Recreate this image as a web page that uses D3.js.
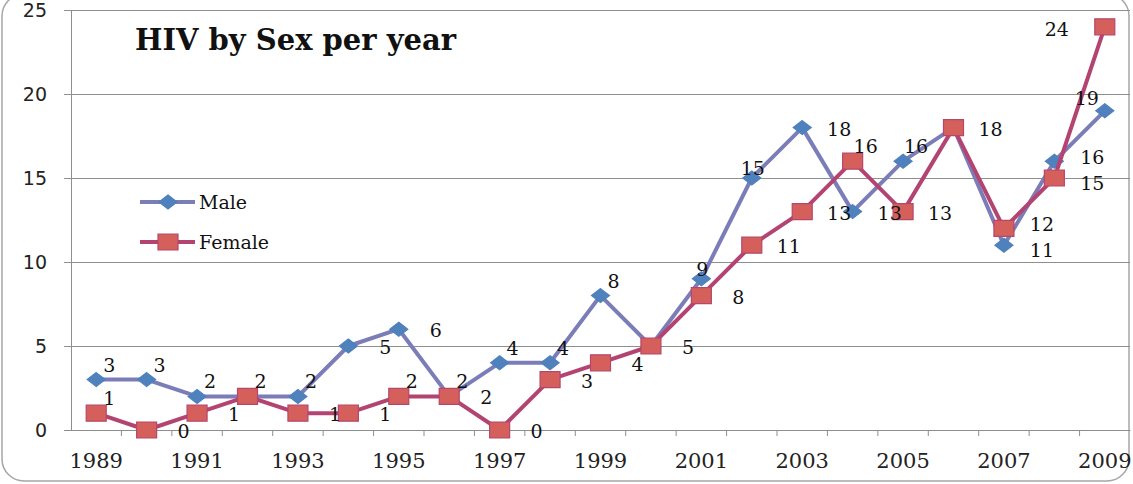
<!DOCTYPE html>
<html>
<head>
<meta charset="utf-8">
<script src="https://cdn.jsdelivr.net/npm/d3@7"></script>
<style>
  body { margin: 0; background: #fff; }
  svg { display: block; }
</style>
</head>
<body>
<div id="chart"></div>
<script>
const years = ['1989','1990','1991','1992','1993','1994','1995','1996','1997','1998','1999',
               '2000','2001','2002','2003','2004','2005','2006','2007','2008','2009'];
const male   = [3, 3, 2, 2, 2, 5, 6, 2, 4, 4, 8, 5, 9, 15, 18, 13, 16, 18, 11, 16, 19];
const female = [1, 0, 1, 2, 1, 1, 2, 2, 0, 3, 4, 5, 8, 11, 13, 16, 13, 18, 12, 15, 24];
const yTicks = [0, 5, 10, 15, 20, 25];

// where each data label sits (null = hidden behind another one)
const maleLabelPos   = ['ur','ur','ur','ur','ur','r','r','ur','ur','ur','ur',null,'u','u','r','r','ur',null,'rd','ru','ul'];
const femaleLabelPos = ['ur','r','r',null,'r','r','ur','r','r','r','r','r','r','r','r','ur','r','r','ru','rd','l'];

const W = 1133, H = 484;
const plotL = 71, plotR = 1130, plotT = 10, plotB = 430;

const svg = d3.select('#chart').append('svg')
    .attr('width', W)
    .attr('height', H);

// outer frame
svg.append('rect')
    .attr('x', 2).attr('y', -6)
    .attr('width', 1127).attr('height', 487)
    .attr('rx', 22).attr('ry', 22)
    .attr('fill', '#fff')
    .attr('stroke', '#a6a6a6')
    .attr('stroke-width', 1.5);

const x = d3.scaleBand().domain(years).range([plotL, plotR]);
const y = d3.scaleLinear().domain([0, 25]).range([plotB, plotT]);
const cx = d => x(d) + x.bandwidth() / 2;

// gridlines
svg.append('g')
    .attr('transform', `translate(${plotL},0)`)
    .call(d3.axisLeft(y).tickValues(yTicks).tickSize(-(plotR - plotL)).tickFormat(''))
    .call(g => g.select('.domain').remove())
    .call(g => g.selectAll('line').attr('stroke', '#8e8e8e').attr('stroke-width', 1));

// y axis
svg.append('g')
    .attr('transform', `translate(${plotL},0)`)
    .call(d3.axisLeft(y).tickValues(yTicks).tickSize(7).tickPadding(17))
    .call(g => g.select('.domain').attr('stroke', '#8e8e8e'))
    .call(g => g.selectAll('line').attr('stroke', '#8e8e8e'))
    .call(g => g.selectAll('text')
        .style('font-family', '"DejaVu Sans", sans-serif')
        .style('font-size', '19px')
        .attr('fill', '#222'));

// x axis: labels every other year, ticks between categories
svg.append('g')
    .attr('transform', `translate(0,${plotB})`)
    .call(d3.axisBottom(x).tickSize(0).tickPadding(23)
        .tickFormat((d, i) => i % 2 === 0 ? d : ''))
    .call(g => g.select('.domain').attr('stroke', '#8e8e8e'))
    .call(g => g.selectAll('text')
        .style('font-family', '"DejaVu Serif", serif')
        .style('font-size', '21px')
        .attr('fill', '#222'));

svg.append('g')
    .selectAll('line')
    .data(years.slice(1))
    .join('line')
    .attr('x1', d => x(d)).attr('x2', d => x(d))
    .attr('y1', plotB).attr('y2', plotB + 6)
    .attr('stroke', '#8e8e8e');

const series = [
    { name: 'Male', values: male, pos: maleLabelPos, line: '#7b7db8', fill: '#4f81bd', stroke: '#4f81bd', shape: 'diamond' },
    { name: 'Female', values: female, pos: femaleLabelPos, line: '#b34472', fill: '#d5605b', stroke: '#b5476c', shape: 'square' }
];

function marker(shape) {
    if (shape === 'diamond') return 'M0,-7L9,0L0,7L-9,0Z';
    return 'M-10,-8H10V8H-10Z';
}

const line = d3.line()
    .x((d, i) => cx(years[i]))
    .y(d => y(d));

series.forEach(s => {
    svg.append('path')
        .datum(s.values)
        .attr('fill', 'none')
        .attr('stroke', s.line)
        .attr('stroke-width', 4)
        .attr('stroke-linejoin', 'round')
        .attr('d', line);

    svg.append('g')
        .selectAll('path')
        .data(s.values)
        .join('path')
        .attr('transform', (d, i) => `translate(${cx(years[i])},${y(d)})`)
        .attr('d', marker(s.shape))
        .attr('fill', s.fill)
        .attr('stroke', s.stroke)
        .attr('stroke-width', 1.2);
});

// data labels
const offsets = {
    r:  [37, 8],
    ru: [38, 3],
    rd: [38, 12],
    ur: [13, -8],
    u:  [1, -3],
    ul: [-18, -6],
    l:  [-48, 9]
};

series.forEach(s => {
    svg.append('g')
        .selectAll('text')
        .data(s.values.map((v, i) => ({ v, i, p: s.pos[i] })).filter(d => d.p))
        .join('text')
        .attr('x', d => cx(years[d.i]) + offsets[d.p][0])
        .attr('y', d => y(d.v) + offsets[d.p][1])
        .attr('text-anchor', 'middle')
        .style('font-family', '"DejaVu Serif", serif')
        .style('font-size', '19px')
        .attr('fill', '#111')
        .text(d => d.v);
});

// legend
const legend = svg.append('g');
series.forEach((s, i) => {
    const ly = 202 + i * 40;
    legend.append('line')
        .attr('x1', 140).attr('x2', 195)
        .attr('y1', ly).attr('y2', ly)
        .attr('stroke', s.line)
        .attr('stroke-width', 4);
    legend.append('path')
        .attr('transform', `translate(168,${ly})`)
        .attr('d', marker(s.shape))
        .attr('fill', s.fill)
        .attr('stroke', s.stroke)
        .attr('stroke-width', 1.2);
    legend.append('text')
        .attr('x', 199).attr('y', ly + 7)
        .style('font-family', '"DejaVu Serif", serif')
        .style('font-size', '19px')
        .attr('fill', '#111')
        .text(s.name);
});

// title
svg.append('text')
    .attr('x', 135).attr('y', 50)
    .style('font-family', '"DejaVu Serif", serif')
    .style('font-weight', 'bold')
    .style('font-size', '29px')
    .attr('fill', '#111')
    .text('HIV by Sex per year');
</script>
</body>
</html>
